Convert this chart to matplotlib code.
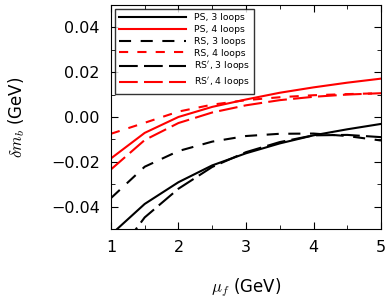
import numpy as np
import matplotlib
matplotlib.use('Agg')
import matplotlib.pyplot as plt
from matplotlib.ticker import MultipleLocator

plt.rcParams['mathtext.fontset'] = 'cm'

mu_f = [1.0, 1.5, 2.0, 2.5, 3.0, 3.5, 4.0, 4.5, 5.0]
ps_3 = [-0.0525, -0.0388, -0.0291, -0.0216, -0.0162, -0.0118, -0.0082, -0.0055, -0.0031]
ps_4 = [-0.0185, -0.0071, 0.0000, 0.0045, 0.0078, 0.0108, 0.0132, 0.0153, 0.0171]
rs_3 = [-0.0362, -0.0222, -0.0152, -0.0110, -0.0085, -0.0075, -0.0074, -0.0085, -0.0105]
rs_4 = [-0.0075, -0.0026, 0.0024, 0.0055, 0.0075, 0.0088, 0.0097, 0.0102, 0.0106]
rsp_3 = [-0.0650, -0.0448, -0.0320, -0.0223, -0.0157, -0.0112, -0.0082, -0.0080, -0.0090]
rsp_4 = [-0.0234, -0.0103, -0.0027, 0.0020, 0.0052, 0.0075, 0.0090, 0.0100, 0.0106]

series = [
    (ps_3, 'k', '-', "PS, 3 loops"),
    (ps_4, 'r', '-', "PS, 4 loops"),
    (rs_3, 'k', (0, (5.8, 4.6)), "RS, 3 loops"),
    (rs_4, 'r', (0, (4.4, 4.4)), "RS, 4 loops"),
    (rsp_3, 'k', (0, (9, 3)), "RS$'$, 3 loops"),
    (rsp_4, 'r', (0, (9, 3)), "RS$'$, 4 loops"),
]

fig = plt.figure(figsize=(3.92, 3.05), dpi=100)
ax = fig.add_axes([0.283, 0.249, 0.689, 0.735])
for y, c, ls, lab in series:
    ax.plot(mu_f, y, color=c, linestyle=ls, lw=1.5, label=lab)

ax.set_xlim(1, 5); ax.set_ylim(-0.05, 0.05)
ax.xaxis.set_major_locator(MultipleLocator(1)); ax.xaxis.set_minor_locator(MultipleLocator(0.5))
ax.yaxis.set_major_locator(MultipleLocator(0.02)); ax.yaxis.set_minor_locator(MultipleLocator(0.01))
ax.tick_params(which='both', direction='in', top=True, right=True, labelsize=11.5, pad=8)
ax.tick_params(which='major', length=5); ax.tick_params(which='minor', length=3)
ax.set_xlabel(r'$\mu_f$ (GeV)', fontsize=12, labelpad=15)
ax.set_ylabel(r'$\delta m_b$ (GeV)', fontsize=12, labelpad=17)
ax.legend(loc='upper left', fontsize=6.7, handlelength=7.2, fancybox=False, edgecolor='k',
          borderaxespad=0.4, labelspacing=0.3, borderpad=0.5)
fig.savefig('out.png', dpi=100)
